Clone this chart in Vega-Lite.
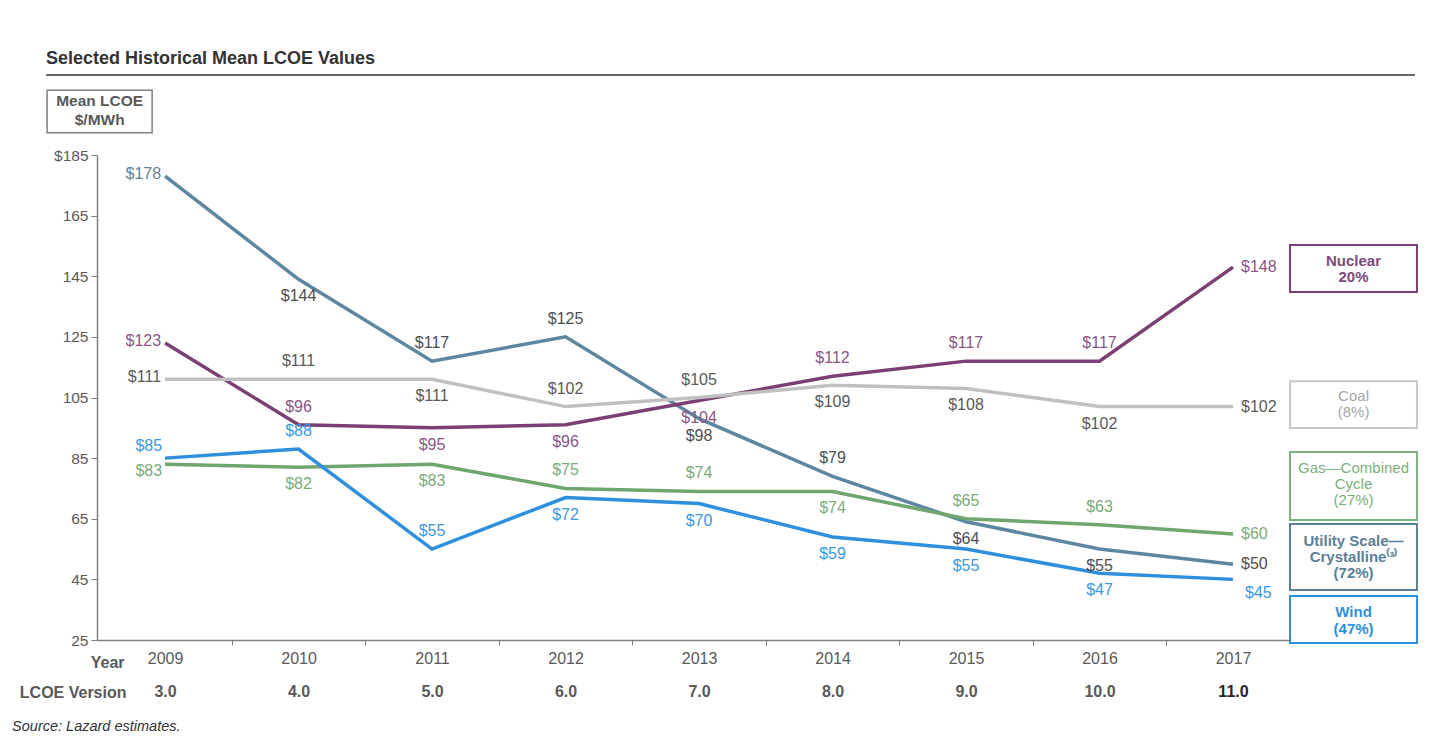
{
  "$schema": "https://vega.github.io/schema/vega-lite/v6.json",
  "width": 1193,
  "height": 485,
  "autosize": {"type": "none"},
  "padding": {"left": 97, "top": 155, "right": 141, "bottom": 100},
  "background": "white",
  "config": {"view": {"stroke": null}, "font": "Liberation Sans", "text": {"font": "Liberation Sans"}},
  "title": {"text": "Selected Historical Mean LCOE Values", "anchor": "start", "frame": "group", "dx": -51, "offset": 6, "fontSize": 18, "fontWeight": "bold", "color": "#333333", "font": "Liberation Sans"},
  "data": {"values": [
    {"series": "Utility", "year": 2009, "value": 178, "pos": "left"},
    {"series": "Utility", "year": 2010, "value": 144, "pos": "below"},
    {"series": "Utility", "year": 2011, "value": 117, "pos": "above"},
    {"series": "Utility", "year": 2012, "value": 125, "pos": "above"},
    {"series": "Utility", "year": 2013, "value": 98, "pos": "below"},
    {"series": "Utility", "year": 2014, "value": 79, "pos": "above"},
    {"series": "Utility", "year": 2015, "value": 64, "pos": "below"},
    {"series": "Utility", "year": 2016, "value": 55, "pos": "below"},
    {"series": "Utility", "year": 2017, "value": 50, "pos": "right"},
    {"series": "Nuclear", "year": 2009, "value": 123, "pos": "left"},
    {"series": "Nuclear", "year": 2010, "value": 96, "pos": "above"},
    {"series": "Nuclear", "year": 2011, "value": 95, "pos": "below"},
    {"series": "Nuclear", "year": 2012, "value": 96, "pos": "below"},
    {"series": "Nuclear", "year": 2013, "value": 104, "pos": "below"},
    {"series": "Nuclear", "year": 2014, "value": 112, "pos": "above"},
    {"series": "Nuclear", "year": 2015, "value": 117, "pos": "above"},
    {"series": "Nuclear", "year": 2016, "value": 117, "pos": "above"},
    {"series": "Nuclear", "year": 2017, "value": 148, "pos": "right"},
    {"series": "Coal", "year": 2009, "value": 111, "pos": "left"},
    {"series": "Coal", "year": 2010, "value": 111, "pos": "above"},
    {"series": "Coal", "year": 2011, "value": 111, "pos": "below"},
    {"series": "Coal", "year": 2012, "value": 102, "pos": "above"},
    {"series": "Coal", "year": 2013, "value": 105, "pos": "above"},
    {"series": "Coal", "year": 2014, "value": 109, "pos": "below"},
    {"series": "Coal", "year": 2015, "value": 108, "pos": "below"},
    {"series": "Coal", "year": 2016, "value": 102, "pos": "below"},
    {"series": "Coal", "year": 2017, "value": 102, "pos": "right"},
    {"series": "Gas", "year": 2009, "value": 83, "pos": "leftdown"},
    {"series": "Gas", "year": 2010, "value": 82, "pos": "below"},
    {"series": "Gas", "year": 2011, "value": 83, "pos": "below"},
    {"series": "Gas", "year": 2012, "value": 75, "pos": "above"},
    {"series": "Gas", "year": 2013, "value": 74, "pos": "above"},
    {"series": "Gas", "year": 2014, "value": 74, "pos": "below"},
    {"series": "Gas", "year": 2015, "value": 65, "pos": "above"},
    {"series": "Gas", "year": 2016, "value": 63, "pos": "above"},
    {"series": "Gas", "year": 2017, "value": 60, "pos": "right"},
    {"series": "Wind", "year": 2009, "value": 85, "pos": "leftup"},
    {"series": "Wind", "year": 2010, "value": 88, "pos": "above"},
    {"series": "Wind", "year": 2011, "value": 55, "pos": "above"},
    {"series": "Wind", "year": 2012, "value": 72, "pos": "below"},
    {"series": "Wind", "year": 2013, "value": 70, "pos": "below"},
    {"series": "Wind", "year": 2014, "value": 59, "pos": "below"},
    {"series": "Wind", "year": 2015, "value": 55, "pos": "below"},
    {"series": "Wind", "year": 2016, "value": 47, "pos": "below"},
    {"series": "Wind", "year": 2017, "value": 45, "pos": "rightdown"}
  ]},
  "resolve": {"scale": {"color": "independent"}, "axis": {"x": "independent", "y": "independent"}},
  "layer": [
    {
      "mark": {"type": "line", "strokeWidth": 3.5, "clip": false},
      "encoding": {
        "x": {"field": "year", "type": "quantitative", "scale": {"domain": [2008.49, 2017.427], "nice": false, "zero": false},
              "axis": {"orient": "bottom", "values": [2009, 2010, 2011, 2012, 2013, 2014, 2015, 2016, 2017], "format": "d", "ticks": false, "domain": false, "grid": false, "labelPadding": 10, "labelFontSize": 16, "labelColor": "#595959", "labelFont": "Liberation Sans",
                       "title": "Year", "titleX": 27, "titleY": 22, "titleAlign": "right", "titleBaseline": "middle", "titleFontSize": 16, "titleColor": "#595959", "titleFontWeight": "bold", "titleFont": "Liberation Sans"}},
        "y": {"field": "value", "type": "quantitative", "scale": {"domain": [25, 185], "nice": false, "zero": false},
              "axis": {"orient": "left", "values": [25, 45, 65, 85, 105, 125, 145, 165, 185], "labelExpr": "datum.value == 185 ? '$185' : datum.label", "grid": false, "title": null, "tickSize": 6, "tickColor": "#808080", "domainColor": "#808080", "domainWidth": 1.5, "labelPadding": 3, "labelFontSize": 15.5, "labelColor": "#595959", "labelFont": "Liberation Sans"}},
        "color": {"field": "series", "type": "nominal", "legend": null,
                  "scale": {"domain": ["Coal", "Gas", "Nuclear", "Utility", "Wind"], "range": ["#c0c0c0", "#6ea66e", "#7b3f74", "#5d87a1", "#2e8fdd"]}},
        "order": {"field": "year"}
      }
    },
    {
      "transform": [{"filter": "datum.pos == 'above'"}],
      "mark": {"type": "text", "fontSize": 16, "baseline": "middle", "align": "center", "dy": -18, "clip": false},
      "encoding": {
        "x": {"field": "year", "type": "quantitative",
              "axis": {"orient": "bottom", "values": [2009.5, 2010.5, 2011.5, 2012.5, 2013.5, 2014.5, 2015.5, 2016.5], "labels": false, "ticks": true, "tickSize": 5, "tickColor": "#808080", "domain": true, "domainColor": "#808080", "domainWidth": 1.5, "grid": false, "title": null}},
        "y": {"field": "value", "type": "quantitative", "axis": null},
        "text": {"field": "value", "type": "quantitative", "format": "$d"},
        "color": {"field": "series", "type": "nominal", "legend": null,
                  "scale": {"domain": ["Coal", "Gas", "Nuclear", "Utility", "Wind"], "range": ["#595959", "#7aab7a", "#8a5584", "#4d4d4d", "#3a98e0"]}}
      }
    },
    {
      "transform": [{"filter": "datum.pos == 'below'"}],
      "mark": {"type": "text", "fontSize": 16, "baseline": "middle", "align": "center", "dy": 17, "clip": false},
      "encoding": {
        "x": {"field": "year", "type": "quantitative",
              "axis": {"orient": "bottom", "values": [2009, 2010, 2011, 2012, 2013, 2014, 2015, 2016, 2017], "labelExpr": "format(datum.value - 2006, '.1f')", "labelFontWeight": "bold", "labelFontSize": 16, "labelFont": "Liberation Sans",
                       "labelColor": {"condition": {"test": "datum.value == 2017", "value": "#262626"}, "value": "#595959"},
                       "labelPadding": 43, "ticks": false, "domain": false, "grid": false,
                       "title": "LCOE Version", "titleX": 29, "titleY": 52, "titleAlign": "right", "titleBaseline": "middle", "titleFontSize": 16, "titleColor": "#595959", "titleFontWeight": "bold", "titleFont": "Liberation Sans"}},
        "y": {"field": "value", "type": "quantitative", "axis": null},
        "text": {"field": "value", "type": "quantitative", "format": "$d"},
        "color": {"field": "series", "type": "nominal", "legend": null,
                  "scale": {"domain": ["Coal", "Gas", "Nuclear", "Utility", "Wind"], "range": ["#595959", "#7aab7a", "#8a5584", "#4d4d4d", "#3a98e0"]}}
      }
    },
    {
      "transform": [{"filter": "datum.pos == 'left'"}],
      "mark": {"type": "text", "fontSize": 16, "baseline": "middle", "align": "right", "dx": -4, "dy": -2, "clip": false},
      "encoding": {
        "x": {"field": "year", "type": "quantitative", "axis": null},
        "y": {"field": "value", "type": "quantitative", "axis": null},
        "text": {"field": "value", "type": "quantitative", "format": "$d"},
        "color": {"field": "series", "type": "nominal", "legend": null,
                  "scale": {"domain": ["Coal", "Gas", "Nuclear", "Utility", "Wind"], "range": ["#595959", "#7aab7a", "#8a5584", "#5f8298", "#3a98e0"]}}
      }
    },
    {
      "transform": [{"filter": "datum.pos == 'leftup'"}],
      "mark": {"type": "text", "fontSize": 16, "baseline": "middle", "align": "right", "dx": -3, "dy": -12, "clip": false},
      "encoding": {
        "x": {"field": "year", "type": "quantitative", "axis": null},
        "y": {"field": "value", "type": "quantitative", "axis": null},
        "text": {"field": "value", "type": "quantitative", "format": "$d"},
        "color": {"field": "series", "type": "nominal", "legend": null,
                  "scale": {"domain": ["Coal", "Gas", "Nuclear", "Utility", "Wind"], "range": ["#595959", "#7aab7a", "#8a5584", "#5f8298", "#3a98e0"]}}
      }
    },
    {
      "transform": [{"filter": "datum.pos == 'leftdown'"}],
      "mark": {"type": "text", "fontSize": 16, "baseline": "middle", "align": "right", "dx": -3, "dy": 7, "clip": false},
      "encoding": {
        "x": {"field": "year", "type": "quantitative", "axis": null},
        "y": {"field": "value", "type": "quantitative", "axis": null},
        "text": {"field": "value", "type": "quantitative", "format": "$d"},
        "color": {"field": "series", "type": "nominal", "legend": null,
                  "scale": {"domain": ["Coal", "Gas", "Nuclear", "Utility", "Wind"], "range": ["#595959", "#7aab7a", "#8a5584", "#5f8298", "#3a98e0"]}}
      }
    },
    {
      "transform": [{"filter": "datum.pos == 'right'"}],
      "mark": {"type": "text", "fontSize": 16, "baseline": "middle", "align": "left", "dx": 8, "clip": false},
      "encoding": {
        "x": {"field": "year", "type": "quantitative", "axis": null},
        "y": {"field": "value", "type": "quantitative", "axis": null},
        "text": {"field": "value", "type": "quantitative", "format": "$d"},
        "color": {"field": "series", "type": "nominal", "legend": null,
                  "scale": {"domain": ["Coal", "Gas", "Nuclear", "Utility", "Wind"], "range": ["#595959", "#7aab7a", "#8a5584", "#4d4d4d", "#3a98e0"]}}
      }
    },
    {
      "transform": [{"filter": "datum.pos == 'rightdown'"}],
      "mark": {"type": "text", "fontSize": 16, "baseline": "middle", "align": "left", "dx": 12, "dy": 14, "clip": false},
      "encoding": {
        "x": {"field": "year", "type": "quantitative", "axis": null},
        "y": {"field": "value", "type": "quantitative", "axis": null},
        "text": {"field": "value", "type": "quantitative", "format": "$d"},
        "color": {"field": "series", "type": "nominal", "legend": null,
                  "scale": {"domain": ["Coal", "Gas", "Nuclear", "Utility", "Wind"], "range": ["#595959", "#7aab7a", "#8a5584", "#4d4d4d", "#3a98e0"]}}
      }
    },
    {
      "data": {"values": [{}]},
      "mark": {"type": "rule", "stroke": "#333333", "strokeWidth": 1.5, "clip": false},
      "encoding": {"x": {"datum": 2008.109, "type": "quantitative", "axis": null}, "x2": {"datum": 2018.363}, "y": {"datum": 211.4, "type": "quantitative", "axis": null}}
    },
    {
      "data": {"values": [{}]},
      "mark": {"type": "rect", "fill": "white", "stroke": "#7f7f7f", "strokeWidth": 1.5, "clip": false},
      "encoding": {"x": {"datum": 2008.116, "type": "quantitative", "axis": null}, "x2": {"datum": 2008.903}, "y": {"datum": 206.4, "type": "quantitative", "axis": null}, "y2": {"datum": 192.3}}
    },
    {
      "data": {"values": [{}]},
      "mark": {"type": "text", "text": ["Mean LCOE", "$/MWh"], "fontSize": 15.5, "fontWeight": "bold", "color": "#595959", "align": "center", "baseline": "middle", "lineHeight": 19, "clip": false},
      "encoding": {"x": {"datum": 2008.51, "type": "quantitative", "axis": null}, "y": {"datum": 202.8, "type": "quantitative", "axis": null}}
    },
    {
      "data": {"values": [{}]},
      "mark": {"type": "rect", "fill": "white", "stroke": "#7b3f74", "strokeWidth": 2, "clip": false},
      "encoding": {"x": {"datum": 2017.427, "type": "quantitative", "axis": null}, "x2": {"datum": 2018.378}, "y": {"datum": 155.3, "type": "quantitative", "axis": null}, "y2": {"datum": 139.8}}
    },
    {
      "data": {"values": [{}]},
      "mark": {"type": "text", "text": ["Nuclear", "20%"], "fontSize": 15, "fontWeight": "bold", "color": "#7e4a78", "align": "center", "baseline": "middle", "lineHeight": 16, "clip": false},
      "encoding": {"x": {"datum": 2017.903, "type": "quantitative", "axis": null}, "y": {"datum": 150.0, "type": "quantitative", "axis": null}}
    },
    {
      "data": {"values": [{}]},
      "mark": {"type": "rect", "fill": "white", "stroke": "#c8c8c8", "strokeWidth": 2, "clip": false},
      "encoding": {"x": {"datum": 2017.427, "type": "quantitative", "axis": null}, "x2": {"datum": 2018.378}, "y": {"datum": 110.4, "type": "quantitative", "axis": null}, "y2": {"datum": 94.9}}
    },
    {
      "data": {"values": [{}]},
      "mark": {"type": "text", "text": ["Coal", "(8%)"], "fontSize": 15, "color": "#a6a6a6", "align": "center", "baseline": "middle", "lineHeight": 16, "clip": false},
      "encoding": {"x": {"datum": 2017.903, "type": "quantitative", "axis": null}, "y": {"datum": 105.5, "type": "quantitative", "axis": null}}
    },
    {
      "data": {"values": [{}]},
      "mark": {"type": "rect", "fill": "white", "stroke": "#7ab07a", "strokeWidth": 2, "clip": false},
      "encoding": {"x": {"datum": 2017.427, "type": "quantitative", "axis": null}, "x2": {"datum": 2018.378}, "y": {"datum": 87.0, "type": "quantitative", "axis": null}, "y2": {"datum": 64.6}}
    },
    {
      "data": {"values": [{}]},
      "mark": {"type": "text", "text": ["Gas—Combined", "Cycle", "(27%)"], "fontSize": 15, "color": "#7ab07a", "align": "center", "baseline": "middle", "lineHeight": 16, "clip": false},
      "encoding": {"x": {"datum": 2017.903, "type": "quantitative", "axis": null}, "y": {"datum": 81.7, "type": "quantitative", "axis": null}}
    },
    {
      "data": {"values": [{}]},
      "mark": {"type": "rect", "fill": "white", "stroke": "#5b7f96", "strokeWidth": 2, "clip": false},
      "encoding": {"x": {"datum": 2017.427, "type": "quantitative", "axis": null}, "x2": {"datum": 2018.378}, "y": {"datum": 63.3, "type": "quantitative", "axis": null}, "y2": {"datum": 41.5}}
    },
    {
      "data": {"values": [{}]},
      "mark": {"type": "text", "text": ["Utility Scale—", "Crystalline⁽³⁾", "(72%)"], "fontSize": 15, "fontWeight": "bold", "color": "#5b7f96", "align": "center", "baseline": "middle", "lineHeight": 16, "clip": false},
      "encoding": {"x": {"datum": 2017.903, "type": "quantitative", "axis": null}, "y": {"datum": 57.7, "type": "quantitative", "axis": null}}
    },
    {
      "data": {"values": [{}]},
      "mark": {"type": "rect", "fill": "white", "stroke": "#2e8fdd", "strokeWidth": 2, "clip": false},
      "encoding": {"x": {"datum": 2017.427, "type": "quantitative", "axis": null}, "x2": {"datum": 2018.378}, "y": {"datum": 39.5, "type": "quantitative", "axis": null}, "y2": {"datum": 24.0}}
    },
    {
      "data": {"values": [{}]},
      "mark": {"type": "text", "text": ["Wind", "(47%)"], "fontSize": 15, "fontWeight": "bold", "color": "#2e8fdd", "align": "center", "baseline": "middle", "lineHeight": 17, "clip": false},
      "encoding": {"x": {"datum": 2017.903, "type": "quantitative", "axis": null}, "y": {"datum": 34.2, "type": "quantitative", "axis": null}}
    },
    {
      "data": {"values": [{}]},
      "mark": {"type": "text", "text": "Source: Lazard estimates.", "fontSize": 14.5, "fontStyle": "italic", "color": "#333333", "align": "left", "baseline": "middle", "clip": false},
      "encoding": {"x": {"datum": 2007.854, "type": "quantitative", "axis": null}, "y": {"datum": -3.7, "type": "quantitative", "axis": null}}
    }
  ]
}
